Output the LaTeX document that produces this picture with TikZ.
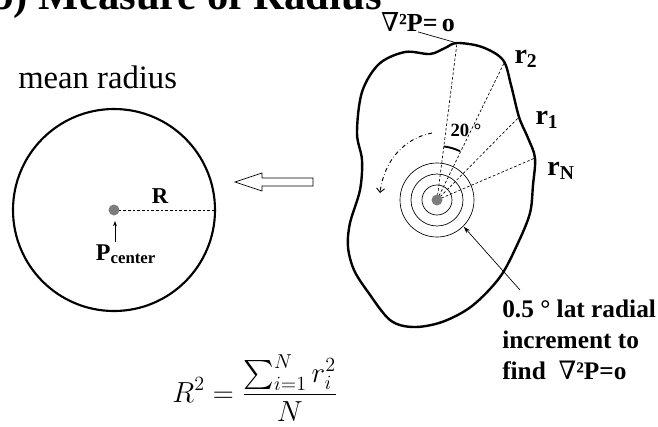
\documentclass[tikz,border=0pt]{standalone}
\usepackage{amsmath}
\usepackage{exscale}
\usepackage{fontspec}
\setmainfont{Liberation Serif}
\newfontfamily\nablafont{DejaVu Serif}
\usepackage{tikz}
\usetikzlibrary{arrows.meta}
\definecolor{dotgray}{RGB}{125,125,125}

\begin{document}
\begin{tikzpicture}[x=0.75pt,y=-0.75pt,
    lbl/.style={font=\bfseries\fontsize{21}{24}\selectfont, inner sep=0pt},
    thin line/.style={line width=0.5pt},
    ray/.style={dashed, dash pattern=on 2pt off 1.5pt, line width=0.5pt}]
    \useasboundingbox (0,0) rectangle (658,426);
    \clip (0,0) rectangle (658,426);

    % Title, cut off at the top of the slide
    \node[anchor=base west, inner sep=0pt, font=\bfseries\fontsize{32}{36}\selectfont] (title) at (-10,9) {b) Measure of Radius};

    % Mean radius circle
    \node[anchor=base west, inner sep=0pt, font=\fontsize{24.5}{28}\selectfont] (mean) at (18,88) {mean radius};
    \coordinate (pc) at (114,210);
    \draw[line width=1.6pt] (pc) circle (101);
    \coordinate (redge) at (214,210);
    \draw[ray] (pc) -- (redge);
    \fill[dotgray] (pc) circle (5.5);
    \node[lbl, font=\bfseries\fontsize{17}{20}\selectfont] (rr) at (160,196) {R};
    \node[lbl, font=\bfseries\fontsize{18}{20}\selectfont] (pcen) at (126,254) {P\textsubscript{center}};
    \coordinate (pcarr) at (115,242);
    \coordinate (pcdot) at (115,221);
    \draw[-{Stealth[length=4pt,width=3pt]}, line width=0.7pt] (pcarr) -- (pcdot);

    % Hollow arrow between the shapes
    \draw[thin line, fill=white] (235,182) -- (262,173) -- (262,178) -- (313,178)
        -- (313,186) -- (262,186) -- (262,191) -- cycle;

    % Irregular contour
    \draw[line width=1.8pt] plot[smooth cycle, tension=0.55] coordinates {
        (457,43) (482,47) (503,60) (511,85) (519,117) (528,138) (535,158)
        (533,185) (530,213) (518,243) (500,277) (472,306) (442,322)
        (413,327) (390,320) (368,292) (354,270) (348,247) (350,223)
        (360,190) (362,160) (357,133) (362,92) (379,64) (405,52)
        (430,54) (445,48)};
    \coordinate (ptop) at (457,43);
    \coordinate (pr2) at (505,61);
    \coordinate (pr1) at (519,117);
    \coordinate (prN) at (535,158);
    \coordinate (ctr) at (437,200);

    % Radial search rings and rays
    \foreach \rad in {15,26,37}
        \draw[thin line] (ctr) circle (\rad);
    \foreach \pt in {ptop,pr2,pr1,prN}
        \draw[ray] (ctr) -- (\pt);
    \fill[dotgray] (ctr) circle (5.5);
    \draw[line width=1.4pt] (ctr) ++(-82.7:54) arc[start angle=-82.7, end angle=-64.8, radius=54];
    \coordinate (swirlA) at (432,133);
    \coordinate (swirlB) at (380,193);
    \draw[dash dot, line width=0.7pt, -{Straight Barb[length=3pt]}] (swirlA) .. controls (405,138) and (384,160) .. (swirlB);

    % Labels
    \node[lbl, font=\bfseries\fontsize{19.5}{22}\selectfont] (lapl) at (418,22) {{\nablafont\mdseries ∇}²P=\,o};
    \draw[thin line] (lapl.south) -- (ptop);
    \node[lbl] (lr2) at (526,59) {r\textsubscript{2}};
    \node[lbl] (lr1) at (547,120) {r\textsubscript{1}};
    \node[lbl] (lrN) at (561,171) {r\textsubscript{N}};
    \node[lbl, font=\bfseries\fontsize{14}{16}\selectfont] (ang) at (466,130) {20 °};

    \node[lbl, anchor=north west, align=left, font=\bfseries\fontsize{19}{23.25}\selectfont] (note) at (502,300)
        {0.5 ° lat radial\\increment to\\find \ {\nablafont\mdseries ∇}²P=o};
    \coordinate (notetip) at (520,290);
    \path (ctr) ++(45:38) coordinate (ringpt);
    \draw[thin line, -{Stealth[length=5pt,width=3.5pt]}] (notetip) -- (ringpt);

    % Mean radius formula
    \node[inner sep=0pt, anchor=base] (formula) at (255,402)
        {\scalebox{1.05}{\fontsize{20.74}{24}\selectfont
         $\displaystyle R^2=\frac{\sum_{i=1}^N r_i^2}{N}$}};
\end{tikzpicture}
\end{document}
